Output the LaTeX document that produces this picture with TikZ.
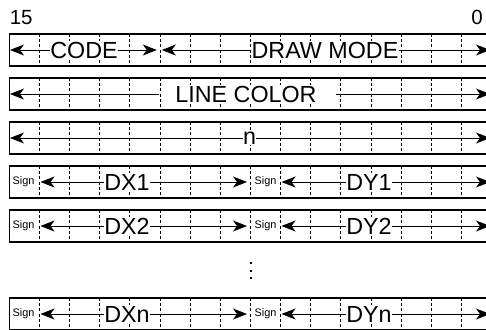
\documentclass[tikz,border=0pt]{standalone}
\usepackage{fontspec}
\setmainfont{Liberation Sans}
\usetikzlibrary{arrows.meta}
\begin{document}
\begin{tikzpicture}[x=1pt,y=-1pt,
  box/.style={draw, line width=1.4pt},
  gridline/.style={line width=1pt, dash pattern=on 3pt off 2.2pt},
  tip/.style={line width=1pt, -{Stealth[length=14pt,width=11pt,inset=4pt]}},
  lab/.style={fill=white, inner xsep=0pt, inner ysep=1pt, font=\fontsize{23.3}{24}\selectfont},
  sgn/.style={inner sep=0pt, font=\fontsize{10.9}{12}\selectfont},
  bitnum/.style={inner sep=0pt, font=\fontsize{20.5}{21}\selectfont}
]
\useasboundingbox (0,0) rectangle (486,329);
\clip (0,0) rectangle (486,329);

% bit numbers
\node[bitnum, anchor=base west] (b15) at (9.6,24.5) {15};
\node[bitnum, anchor=base east] (b0) at (483,24.5) {0};

% row boxes and dashed cell dividers
\foreach \t in {34,78,122,166,210,298} {
  \foreach \k in {1,...,15}
    \draw[gridline] ({9.3+30.15*\k},\t) -- ({9.3+30.15*\k},{\t+32});
  \draw[box] (9.3,\t) rectangle (491.7,{\t+32});
}

% row 1: CODE / DRAW MODE
\coordinate (r1a) at (10,50);
\coordinate (r1b) at (156.8,50);
\coordinate (r1c) at (161.8,50);
\coordinate (r1d) at (490,50);
\node[lab] (code) at (84,50) {CODE};
\node[lab] (dm) at (325,50) {DRAW MODE};
\draw[tip] (code.west) -- (r1a);
\draw[tip] (code.east) -- (r1b);
\draw[tip] (dm.west) -- (r1c);
\draw[tip] (dm.east) -- (r1d);

% row 2: LINE COLOR
\coordinate (r2a) at (10,94);
\coordinate (r2b) at (159.3,94);
\coordinate (r2c) at (336,94);
\coordinate (r2d) at (490,94);
\node[lab] (lc) at (246,94) {LINE COLOR};
\draw[tip] (r2b) -- (r2a);
\draw[tip] (r2c) -- (r2d);

% row 3: n
\coordinate (r3a) at (10,138);
\coordinate (r3d) at (490,138);
\node[lab] (nn) at (249.5,138) {n};
\draw[tip] (nn.west) -- (r3a);
\draw[tip] (nn.east) -- (r3d);

% rows DX/DY
\foreach \m/\i in {182/1,226/2,314/n} {
  \node[sgn] (sx\i) at (23.5,\m) {Sign};
  \node[sgn] (sy\i) at (265.5,\m) {Sign};
  \coordinate (xa\i) at (40.5,\m);
  \coordinate (xb\i) at (247,\m);
  \coordinate (ya\i) at (281.5,\m);
  \coordinate (yb\i) at (490,\m);
  \node[lab] (dx\i) at (127,\m) {DX\i};
  \node[lab] (dy\i) at (369,\m) {DY\i};
  \draw[tip] (dx\i.west) -- (xa\i);
  \draw[tip] (dx\i.east) -- (xb\i);
  \draw[tip] (dy\i.west) -- (ya\i);
  \draw[tip] (dy\i.east) -- (yb\i);
}

% vertical ellipsis
\foreach \y in {262,269.7,277.3}
  \fill (250.2,\y) rectangle (252.3,{\y+2.1});
\end{tikzpicture}
\end{document}
